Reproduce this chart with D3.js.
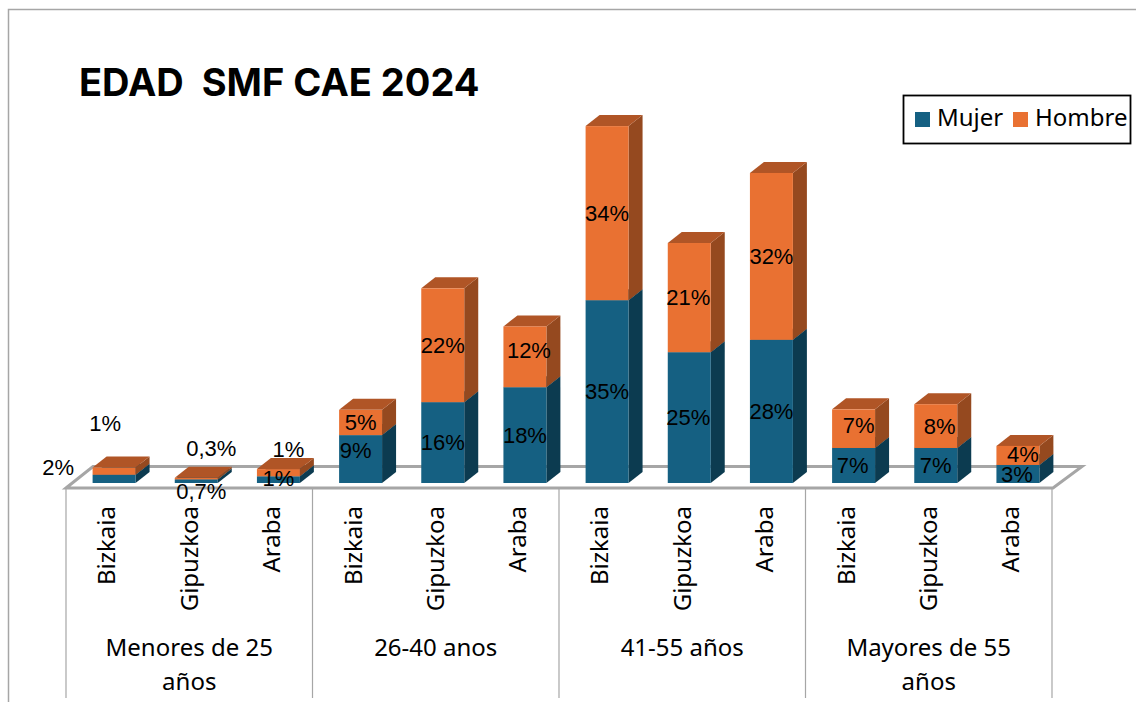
<!DOCTYPE html>
<html>
<head>
<meta charset="utf-8">
<style>
  body { margin: 0; background: #fff; }
  svg { display: block; }
  text { fill: #000; }
</style>
<script src="https://cdn.jsdelivr.net/npm/d3@7"></script>
</head>
<body>
<script>
const groups = ['Menores de 25 años', '26-40 anos', '41-55 años', 'Mayores de 55 años']
const provinces = ['Bizkaia', 'Gipuzkoa', 'Araba']
const mujer = [1.6, 0.7, 1.3, 9.3, 15.7, 18.6, 35.5, 25.4, 27.8, 6.8, 6.8, 3.5]
const hombre = [1.4, 0.3, 1.4, 4.9, 22.1, 11.8, 33.8, 21.2, 32.4, 7.5, 8.5, 3.7]
const mujerLabels = ['2%', '0,7%', '1%', '9%', '16%', '18%', '35%', '25%', '28%', '7%', '7%', '3%']
const hombreLabels = ['1%', '0,3%', '1%', '5%', '22%', '12%', '34%', '21%', '32%', '7%', '8%', '4%']

// hand placed label offsets, same as the moved labels in the original
const mujerNudge = [[-56, -12], [5, 10], [0, -1], [-5, -9], [0, 0], [0, 0], [0, 0], [-1, 0], [0, 0], [-1, 0], [0, 0], [-1, 0]]
const hombreNudge = [[-9, -48], [15, -30], [10, -23], [0, 0], [0, 0], [4, -7], [0, 0], [-1, 0], [0, 0], [5, -3], [4, 0], [5, -1]]

const width = 1136
const height = 702
const depthX = 14
const depthY = 11
const baseY = 483

const bars = d3.range(mujer.length)

const x = d3.scaleBand()
  .domain(bars)
  .range([73, 1059])
  .paddingInner(0.477)
  .paddingOuter(0.2385)

const y = d3.scaleLinear()
  .domain([0, 10])
  .range([baseY, baseY - 51.5])

const svg = d3.select('body')
  .append('svg')
  .attr('width', width)
  .attr('height', height)

// outer frame of the chart
svg.append('path')
  .attr('d', 'M8.5,702V9.5H1136')
  .attr('fill', 'none')
  .attr('stroke', '#a6a6a6')
  .attr('stroke-width', 1.5)

svg.append('text')
  .attr('x', 79)
  .attr('y', 96)
  .attr('font-family', 'Inter')
  .attr('font-weight', 700)
  .attr('font-size', 38)
  .style('white-space', 'pre')
  .text('EDAD  SMF CAE 2024')

// floor
svg.append('path')
  .attr('d', 'M66,488L93,466.5H1082L1053,488Z')
  .attr('fill', '#fff')
  .attr('stroke', '#a6a6a6')
  .attr('stroke-width', 3)

// stacked 3d columns
const stacks = [
  { name: 'Mujer', values: mujer, labels: mujerLabels, nudge: mujerNudge, front: '#156082', side: '#0c3b50', top: '#0f4a64', start: () => 0 },
  { name: 'Hombre', values: hombre, labels: hombreLabels, nudge: hombreNudge, front: '#e97132', side: '#95491f', top: '#b05526', start: i => mujer[i] }
]

stacks.forEach(s => {
  const g = svg.append('g')

  g.selectAll('path.side')
    .data(bars)
    .enter()
    .append('path')
    .attr('class', 'side')
    .attr('fill', s.side)
    .attr('d', i => {
      const r = x(i) + x.bandwidth()
      const y0 = y(s.start(i))
      const y1 = y(s.start(i) + s.values[i])
      return `M${r},${y0}L${r + depthX},${y0 - depthY}V${y1 - depthY}L${r},${y1}Z`
    })

  g.selectAll('path.top')
    .data(bars)
    .enter()
    .append('path')
    .attr('class', 'top')
    .attr('fill', s.top)
    .attr('d', i => {
      const l = x(i)
      const r = l + x.bandwidth()
      const y1 = y(s.start(i) + s.values[i])
      return `M${l},${y1}L${l + depthX},${y1 - depthY}H${r + depthX}L${r},${y1}Z`
    })

  g.selectAll('rect')
    .data(bars)
    .enter()
    .append('rect')
    .attr('x', i => x(i))
    .attr('y', i => y(s.start(i) + s.values[i]))
    .attr('width', x.bandwidth())
    .attr('height', i => y(s.start(i)) - y(s.start(i) + s.values[i]))
    .attr('fill', s.front)
})

// value labels go on top of every bar
stacks.forEach(s => {
  svg.append('g')
    .selectAll('text')
    .data(bars)
    .enter()
    .append('text')
    .attr('x', i => x(i) + x.bandwidth() / 2 + s.nudge[i][0])
    .attr('y', i => y(s.start(i) + s.values[i] / 2) + s.nudge[i][1])
    .attr('dy', '0.35em')
    .attr('text-anchor', 'middle')
    .attr('font-family', 'Liberation Sans')
    .attr('font-size', 22)
    .text(i => s.labels[i])
})

// multi level category axis
const groupX = d3.scaleBand()
  .domain(groups)
  .range([66, 1052])

const axis = svg.append('g')
  .attr('stroke', '#a6a6a6')
  .attr('stroke-width', 1.2)

axis.selectAll('line')
  .data([...groups.map(d => groupX(d)), 1052])
  .enter()
  .append('line')
  .attr('x1', d => d)
  .attr('x2', d => d)
  .attr('y1', 488)
  .attr('y2', 698)

svg.append('g')
  .selectAll('text')
  .data(bars)
  .enter()
  .append('text')
  .attr('transform', i => `translate(${x(i) + x.bandwidth() / 2 - 7},506) rotate(-90)`)
  .attr('dy', '0.35em')
  .attr('text-anchor', 'end')
  .attr('font-family', 'Noto Sans')
  .attr('font-size', 24)
  .text(i => provinces[i % 3])

const groupLines = [['Menores de 25', 'años'], ['26-40 anos'], ['41-55 años'], ['Mayores de 55', 'años']]

groupLines.forEach((lines, i) => {
  lines.forEach((line, j) => {
    svg.append('text')
      .attr('x', groupX(groups[i]) + groupX.bandwidth() / 2)
      .attr('y', 648 + j * 34)
      .attr('dy', '0.35em')
      .attr('text-anchor', 'middle')
      .attr('font-family', 'Noto Sans')
      .attr('font-size', 24)
      .text(line)
  })
})

// legend
svg.append('rect')
  .attr('x', 903.5)
  .attr('y', 95.5)
  .attr('width', 227)
  .attr('height', 48)
  .attr('fill', '#fff')
  .attr('stroke', '#000')
  .attr('stroke-width', 1.8)

const legendItems = [
  { name: 'Mujer', color: '#156082', boxX: 915, textX: 937 },
  { name: 'Hombre', color: '#e97132', boxX: 1013, textX: 1035 }
]

legendItems.forEach(d => {
  svg.append('rect')
    .attr('x', d.boxX)
    .attr('y', 112)
    .attr('width', 15)
    .attr('height', 15)
    .attr('fill', d.color)
  svg.append('text')
    .attr('x', d.textX)
    .attr('y', 118)
    .attr('dy', '0.35em')
    .attr('font-family', 'Noto Sans')
    .attr('font-size', 24)
    .text(d.name)
})
</script>
</body>
</html>
